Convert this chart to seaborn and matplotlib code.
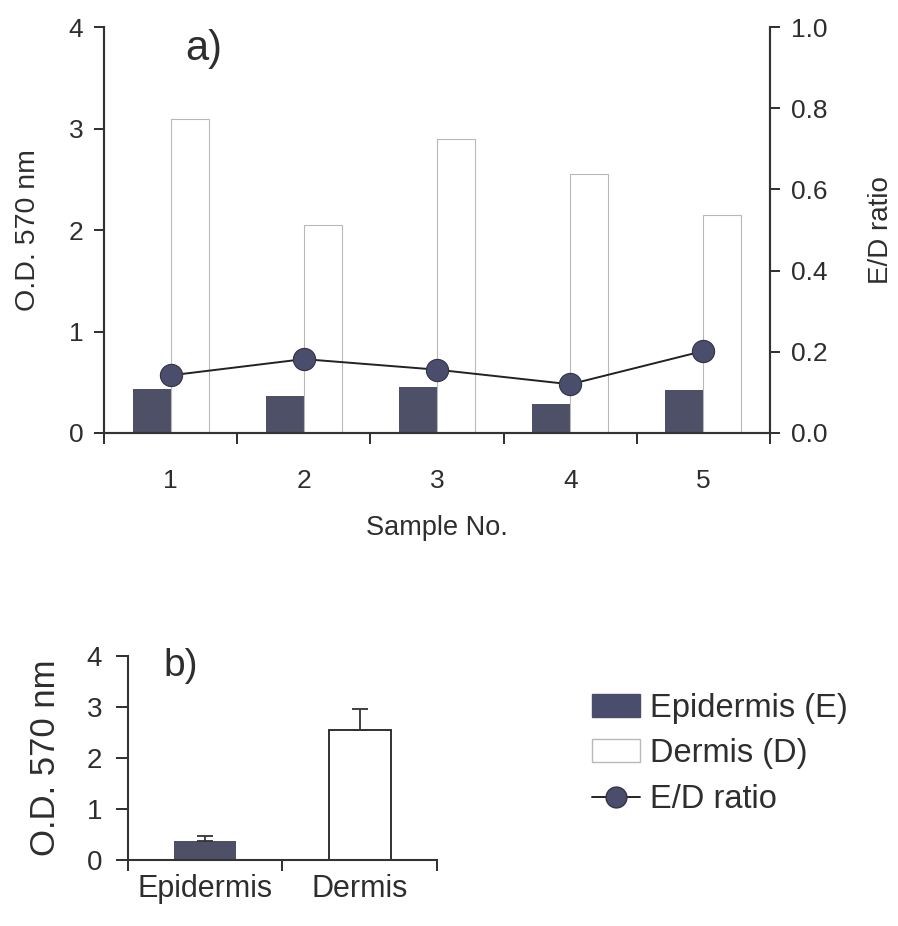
import matplotlib
matplotlib.use("Agg")
import matplotlib.pyplot as plt
import numpy as np
import pandas as pd
import seaborn as sns
from matplotlib.lines import Line2D
from matplotlib.patches import Patch

# panel a) values
samples = ["1", "2", "3", "4", "5"]
epidermis = [0.43, 0.36, 0.45, 0.29, 0.42]
dermis = [3.09, 2.05, 2.90, 2.55, 2.15]
ed_ratio = [0.142, 0.182, 0.156, 0.120, 0.202]

# panel b) means and upper error
tissues = ["Epidermis", "Dermis"]
tissue_mean = [0.38, 2.54]
tissue_err = [0.09, 0.43]

DARK = "#4a4d6b"
INK = "#2e2e2e"
EDGE_LIGHT = "#b8b8b8"

sns.set_theme(style="ticks")
plt.rcParams["font.family"] = ["Liberation Sans", "DejaVu Sans"]
plt.rcParams["text.color"] = INK
plt.rcParams["axes.labelcolor"] = INK
plt.rcParams["xtick.color"] = INK
plt.rcParams["ytick.color"] = INK

fig = plt.figure(figsize=(8.98, 9.26), dpi=100)

# ---- panel a
ax = fig.add_axes([0.1158, 0.5324, 0.7417, 0.4384])
long_a = pd.DataFrame({
    "sample": samples * 2,
    "od": epidermis + dermis,
    "tissue": ["Epidermis (E)"] * len(samples) + ["Dermis (D)"] * len(samples),
})
sns.barplot(data=long_a, x="sample", y="od", hue="tissue",
            palette={"Epidermis (E)": DARK, "Dermis (D)": "white"},
            width=0.57, gap=0, legend=False, ax=ax)
for patch in ax.patches:
    if patch.get_facecolor()[0] > 0.9:
        patch.set_edgecolor(EDGE_LIGHT)
        patch.set_linewidth(0.8)
    else:
        patch.set_linewidth(0)

ax2 = ax.twinx()
sns.pointplot(x=samples, y=ed_ratio, color="#222222", markers="o",
              linestyles="-", ax=ax2, markersize=0)
ax2.lines[0].set_linewidth(1.4)
ax2.plot(np.arange(len(samples)), ed_ratio, ls="none", marker="o", ms=16,
         mfc=DARK, mec="#333344", mew=0.8, zorder=5)

ax.set_xlim(-0.5, len(samples) - 0.5)
ax.set_ylim(0, 4)
ax2.set_ylim(0, 1.0)
ax.set_yticks([0, 1, 2, 3, 4])
ax2.set_yticks(np.arange(0, 1.01, 0.2))
ax2.set_yticklabels([f"{v:.1f}" for v in np.arange(0, 1.01, 0.2)])
ax.set_xticks(np.arange(-0.5, len(samples), 1.0))
ax.set_xticklabels([])
ax.set_xticks(np.arange(len(samples)), minor=True)
ax.set_xticklabels(samples, minor=True)
ax.tick_params(axis="x", which="minor", length=0, pad=26, labelsize=19)
ax.tick_params(axis="x", which="major", length=8, width=1.4, direction="out")
ax.tick_params(axis="y", length=7, width=1.4, direction="out", labelsize=19, pad=8)
ax2.tick_params(axis="y", length=7, width=1.4, direction="out", labelsize=19, pad=8)
ax.set_xlabel("Sample No.", fontsize=19.5, labelpad=16)
ax.set_ylabel("O.D. 570 nm", fontsize=20.5, labelpad=20)
ax2.set_ylabel("E/D ratio", fontsize=20, labelpad=29)
for a in (ax, ax2):
    a.spines["top"].set_visible(False)
    for s in ("left", "right", "bottom"):
        a.spines[s].set_color("#333333")
        a.spines[s].set_linewidth(1.5)
ax.text(0.15, 0.945, "a)", transform=ax.transAxes, fontsize=30,
        ha="center", va="center")

# ---- panel b
bx = fig.add_axes([0.1425, 0.0713, 0.344, 0.2203])
sns.barplot(x=tissues, y=tissue_mean, hue=tissues,
            palette={"Epidermis": DARK, "Dermis": "white"},
            width=0.4, legend=False, ax=bx)
for patch in bx.patches:
    if patch.get_facecolor()[0] > 0.9:
        patch.set_edgecolor("#222222")
        patch.set_linewidth(1.3)
    else:
        patch.set_linewidth(0)
bx.errorbar(np.arange(len(tissues)), tissue_mean,
            yerr=[np.zeros(len(tissues)), tissue_err],
            fmt="none", ecolor="#333333", elinewidth=1.3, capsize=6, capthick=1.3)
bx.set_xlim(-0.5, len(tissues) - 0.5)
bx.set_ylim(0, 4)
bx.set_yticks([0, 1, 2, 3, 4])
bx.set_xticks(np.arange(-0.5, len(tissues), 1.0))
bx.set_xticklabels([])
bx.set_xticks(np.arange(len(tissues)), minor=True)
bx.set_xticklabels(tissues, minor=True)
bx.tick_params(axis="x", which="minor", length=0, pad=10, labelsize=22)
bx.tick_params(axis="x", which="major", length=8, width=1.4, direction="out")
bx.tick_params(axis="y", length=8.5, width=1.4, direction="out", labelsize=20, pad=10)
bx.set_ylabel("O.D. 570 nm", fontsize=25, labelpad=18)
bx.set_xlabel("")
bx.spines["top"].set_visible(False)
bx.spines["right"].set_visible(False)
for s in ("left", "bottom"):
    bx.spines[s].set_color("#333333")
    bx.spines[s].set_linewidth(1.5)
bx.text(0.17, 0.95, "b)", transform=bx.transAxes, fontsize=28,
        ha="center", va="center")

handles = [
    Patch(facecolor=DARK, edgecolor=DARK, label="Epidermis (E)"),
    Patch(facecolor="white", edgecolor=EDGE_LIGHT, label="Dermis (D)"),
    Line2D([0], [0], color="#222222", lw=1.4, marker="o", ms=15,
           mfc=DARK, mec="#333344", label="E/D ratio"),
]
fig.legend(handles=handles, loc="center left", bbox_to_anchor=(0.626, 0.186),
           frameon=False, fontsize=23.5, labelspacing=0.45, handlelength=1.5,
           handletextpad=0.3, handleheight=0.7)

fig.savefig("out.png", dpi=100)
